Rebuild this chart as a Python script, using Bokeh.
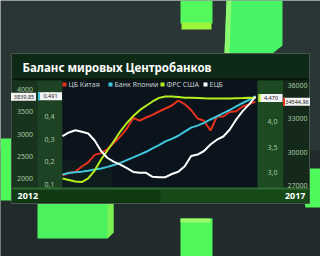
from bokeh.plotting import figure
from bokeh.models import Range1d
from bokeh.core.properties import value
from bokeh.embed import file_html
from bokeh.resources import INLINE

# ---------------- data ----------------
title = "Баланс мировых Центробанков"
series_names = ["ЦБ Китая", "Банк Японии", "ФРС США", "ЕЦБ"]
series_colors = ["#e8321e", "#3ec6dc", "#b4f01e", "#ffffff"]
year_labels = ["2012", "2017"]

dates = ["2012-01", "2012-03", "2012-05", "2012-07", "2012-09", "2012-11",
         "2013-01", "2013-03", "2013-05", "2013-07", "2013-09", "2013-11",
         "2014-01", "2014-03", "2014-05", "2014-07", "2014-09", "2014-11",
         "2015-01", "2015-03", "2015-05", "2015-07", "2015-09", "2015-11",
         "2016-01", "2016-03", "2016-05", "2016-07", "2016-09", "2016-11",
         "2017-01"]

# PBoC, bn yuan
pboc = [27927, 28152, 28233, 28710, 29088, 29754, 29916, 30285, 30843, 31428,
        32130, 33075, 32841, 33120, 33354, 33660, 33930, 34200, 34650, 34317,
        33786, 33030, 32823, 31950, 33210, 33210, 33615, 33687, 34110, 34300,
        34544.96]
# BoJ, quadrillion yen
boj = [0.144, 0.151, 0.154, 0.157, 0.161, 0.166, 0.171, 0.178, 0.186, 0.196,
       0.208, 0.220, 0.232, 0.245, 0.260, 0.274, 0.291, 0.302, 0.316, 0.334,
       0.352, 0.361, 0.373, 0.388, 0.402, 0.416, 0.430, 0.446, 0.461, 0.475,
       0.491]
# Fed, trn USD
fed = [2.882, 2.852, 2.822, 2.812, 2.882, 3.039, 3.257, 3.440, 3.622, 3.813,
       3.977, 4.113, 4.230, 4.317, 4.402, 4.473, 4.500, 4.500, 4.488, 4.475,
       4.475, 4.471, 4.465, 4.461, 4.461, 4.461, 4.461, 4.465, 4.469, 4.475,
       4.470]
# ECB, bn EUR
ecb = [2953, 3034, 3083, 3049, 3011, 2854, 2618, 2461, 2375, 2310, 2231, 2148,
       2130, 2128, 2038, 2027, 2029, 2101, 2151, 2274, 2506, 2539, 2618, 2764,
       2872, 2944, 3101, 3326, 3514, 3667, 3839.85]

ecb_ticks = [2000, 2500, 3000, 3500, 4000]
ecb_tick_labels = ["2000", "2500", "3000", "3500", "4000"]
boj_ticks = [0.1, 0.2, 0.3, 0.4, 0.5]
boj_tick_labels = ["0,1", "0,2", "0,3", "0,4", "0,5"]
fed_ticks = [3.0, 3.5, 4.0]
fed_tick_labels = ["3,0", "3,5", "4,0"]
pboc_ticks = [27000, 30000, 33000, 36000]
pboc_tick_labels = ["27000", "30000", "33000", "36000"]
last_labels = ["34544,96", "0,491", "4,470", "3839,85"]

# ---------------- layout ----------------
W, H = 320, 256
t = [int(d[:4]) + (int(d[5:7]) - 1) / 12 for d in dates]

p = figure(width=W, height=H, output_backend="svg", toolbar_location=None,
           x_range=Range1d(0, W), y_range=Range1d(H, 0),
           x_axis_location=None, y_axis_location=None, min_border=0)
p.min_border_left = p.min_border_right = p.min_border_top = p.min_border_bottom = 0
p.grid.visible = False
p.outline_line_color = None
p.background_fill_color = "#2a3635"
p.border_fill_color = "#2a3635"

# time scale: first date at px 62, last at px 255
PX0, PX1 = 62, 255
kx = (t[-1] - t[0]) / (PX1 - PX0)
p.extra_x_ranges = {"t": Range1d(t[0] - PX0 * kx, t[0] + (W - PX0) * kx)}


def yrange(va, pya, vb, pyb):
    k = (vb - va) / (pya - pyb)
    return Range1d(va - (H - pya) * k, va + pya * k)


p.extra_y_ranges = {
    "ecb": yrange(2000, 178, 4000, 89),
    "boj": yrange(0.1, 184, 0.5, 93.7),
    "fed": yrange(3.0, 172, 4.5, 96),
    "pboc": yrange(27000, 185, 36000, 85),
}

# background shading (vignette)
p.quad(left=[0], right=[W], top=[150], bottom=[H], fill_color="#222b2b", line_color=None)

# green cubes (decoration)
G = "#4dfa5a"
p.quad(left=[180], right=[212], top=[0], bottom=[23], fill_color="#52f85c", line_color=None)
p.quad(left=[181], right=[211], top=[22], bottom=[29], fill_color="#9cf53c", line_color=None)
p.patch([226, 282, 282, 272, 224], [0, 0, 45, 53, 53], fill_color="#46f466", line_color=None)
p.patch([226, 231, 229, 224], [0, 0, 53, 53], fill_color="#8cf870", line_color=None)
p.quad(left=[0], right=[14], top=[138], bottom=[200], fill_color=G, line_color=None)
p.patch([298, 320, 320, 305], [168, 168, 207, 207], fill_color=G, line_color=None)
p.patch([37, 108, 113, 113, 107, 37], [203, 203, 203, 232, 238, 238], fill_color="#4cf35e", line_color=None)
p.patch([107, 113, 113, 107], [203, 203, 232, 238], fill_color="#7cf050", line_color=None)
p.quad(left=[180], right=[212], top=[218], bottom=[256], fill_color="#50f85a", line_color=None)
p.quad(left=[180], right=[210], top=[218], bottom=[222], fill_color="#a0f868", line_color=None)

# panel
p.quad(left=[11], right=[309], top=[53], bottom=[203], fill_color="#16261a", line_color="#44584c", line_width=1)
p.quad(left=[12], right=[308], top=[54], bottom=[78], fill_color="#0e2a16", line_color=None)
p.quad(left=[12], right=[308], top=[78], bottom=[80], fill_color="#081408", line_color=None)
p.quad(left=[12], right=[37], top=[80], bottom=[188], fill_color="#19341e", line_color=None)
p.quad(left=[37], right=[62], top=[80], bottom=[188], fill_color="#1e4224", line_color=None)
p.quad(left=[62], right=[257], top=[80], bottom=[188], fill_color="#0b141c", line_color=None)
p.quad(left=[62], right=[112], top=[160], bottom=[188], fill_color="#0e1c1e", line_color=None)
p.quad(left=[257], right=[283], top=[80], bottom=[188], fill_color="#1d4a22", line_color=None)
p.quad(left=[283], right=[308], top=[80], bottom=[188], fill_color="#14291a", line_color=None)
p.quad(left=[12], right=[308], top=[188], bottom=[202], fill_color="#0f3a13", line_color=None)
p.quad(left=[160], right=[308], top=[188], bottom=[202], fill_color="#154a18", line_color=None)
p.quad(left=[12], right=[308], top=[187], bottom=[189], fill_color="#2f6a30", line_color=None)

# title
p.text(x=[22], y=[67], text=[title], text_font=value("Noto Sans"), text_font_size="11.5px",
       text_font_style="bold", text_color="#ffffff", text_baseline="middle", text_align="left")

# legend
lx = [62, 108, 160, 203]
p.rect(x=[v + 2 for v in lx], y=[84] * 4, width=4, height=4, fill_color=series_colors, line_color=None)
p.text(x=[v + 6 for v in lx], y=[84] * 4, text=series_names, text_font=value("Noto Sans"),
       text_font_size="7px", text_color="#c8d0cc", text_baseline="middle", text_align="left")

# tick labels
tick_font = dict(text_font=value("Noto Sans"), text_font_size="7px", text_color="#a8c8a2",
                 text_baseline="middle", text_align="center")
p.text(x=[24.5] * len(ecb_ticks), y=ecb_ticks, text=ecb_tick_labels, y_range_name="ecb", **tick_font)
p.text(x=[49] * len(boj_ticks), y=boj_ticks, text=boj_tick_labels, y_range_name="boj", **tick_font)
p.text(x=[272] * len(fed_ticks), y=fed_ticks, text=fed_tick_labels, y_range_name="fed", **tick_font)
p.text(x=[297] * len(pboc_ticks), y=pboc_ticks, text=pboc_tick_labels, y_range_name="pboc", **tick_font)

# series lines
series = [("pboc", pboc), ("boj", boj), ("fed", fed), ("ecb", ecb)]
for (rn, vals), col in zip(series, series_colors):
    p.line(t, vals, x_range_name="t", y_range_name=rn, line_color=col, line_width=2)

# last-value boxes
box_x = [296, 49.5, 270, 23]
box_w = [27, 24, 24, 25]
for (rn, vals), col, bx, bw, lab in zip(series, series_colors, box_x, box_w, last_labels):
    p.rect(x=[bx], y=[vals[-1]], width=bw, height=8, width_units="screen", height_units="screen",
           fill_color="#f4f4f4", line_color=None, y_range_name=rn)
    if col != "#ffffff":
        p.rect(x=[bx - bw / 2 + 1], y=[vals[-1]], width=2, height=8, width_units="screen",
               height_units="screen", fill_color=col, line_color=None, y_range_name=rn)
    p.text(x=[bx + 0.5], y=[vals[-1]], text=[lab], y_range_name=rn, text_font=value("Noto Sans"),
           text_font_size="5.5px", text_color="#202020", text_baseline="middle", text_align="center")

# years
p.text(x=[17, 305], y=[195.5, 195.5], text=year_labels, text_font=value("Noto Sans"),
       text_font_size="9px", text_font_style="bold", text_color="#ffffff",
       text_baseline="middle", text_align=["left", "right"])

open("out.html", "w").write(file_html(p, INLINE))
